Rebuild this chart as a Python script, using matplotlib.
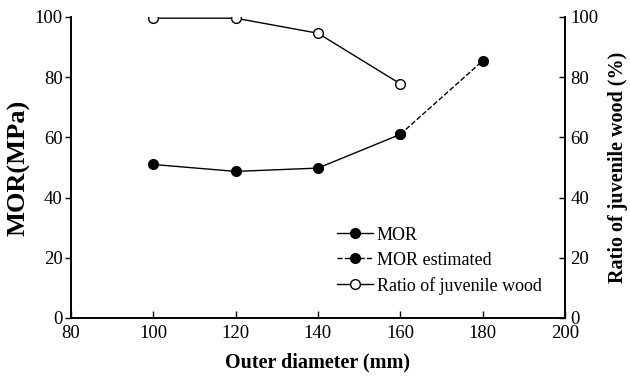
import matplotlib
matplotlib.use('Agg')
import matplotlib.pyplot as plt
from matplotlib.lines import Line2D

plt.rcParams['font.family'] = ['Liberation Serif', 'DejaVu Serif']

# data
diam_mor = [100, 120, 140, 160]
mor = [51.0, 48.7, 49.8, 61.0]
diam_est = [160, 180]
mor_est = [61.0, 85.4]
diam_ratio = [100, 120, 140, 160]
ratio = [99.6, 99.6, 94.6, 77.8]
xticks = [80, 100, 120, 140, 160, 180, 200]
yticks = [0, 20, 40, 60, 80, 100]

fig = plt.figure(figsize=(6.3, 3.81), dpi=100)
ax = fig.add_axes([0.1127, 0.1654, 0.784, 0.79])
ax2 = ax.twinx()

ax.plot(diam_mor, mor, color='black', lw=1, marker='o', ms=7, mfc='black', mec='black', zorder=3)
ax.plot(diam_est, mor_est, color='black', lw=1, ls='--', marker='o', ms=7, mfc='black', mec='black', zorder=3)
ax2.plot(diam_ratio, ratio, color='black', lw=1, marker='o', ms=7, mfc='white', mec='black', zorder=3)

for a in (ax, ax2):
    a.set_ylim(0, 100)
    a.set_yticks(yticks)
    a.spines['top'].set_visible(False)
    for s in a.spines.values():
        s.set_linewidth(1.2)
ax.set_xlim(80, 200)
ax.set_xticks(xticks)
ax.tick_params(axis='x', direction='in', length=5, labelsize=13.5, pad=5, width=1)
ax.tick_params(axis='y', direction='out', length=4, labelsize=13.5, pad=2, width=1)
ax2.tick_params(axis='y', direction='in', length=4, labelsize=13.5, pad=4, width=1)

ax.set_xlabel('Outer diameter (mm)', fontsize=14.5, fontweight='bold')
ax.xaxis.set_label_coords(0.5, -0.115)
ax.set_ylabel('MOR(MPa)', fontsize=19, fontweight='bold')
ax.yaxis.set_label_coords(-0.081, 0.5)
ax2.set_ylabel('Ratio of juvenile wood (%)', fontsize=14.5, fontweight='bold')
ax2.yaxis.set_label_coords(1.087, 0.5)

handles = [
    Line2D([], [], color='black', lw=1, marker='o', ms=7, mfc='black'),
    Line2D([], [], color='black', lw=1, ls='--', marker='o', ms=7, mfc='black'),
    Line2D([], [], color='black', lw=1, marker='o', ms=7, mfc='white', mec='black'),
]
labels = ['MOR', 'MOR estimated', 'Ratio of juvenile wood']
ax2.legend(handles, labels, loc='lower left', bbox_to_anchor=(0.506, 0.023), frameon=False,
           fontsize=13, handlelength=2.0, handletextpad=0.2, labelspacing=0.45)

fig.savefig('out.png', dpi=100)
